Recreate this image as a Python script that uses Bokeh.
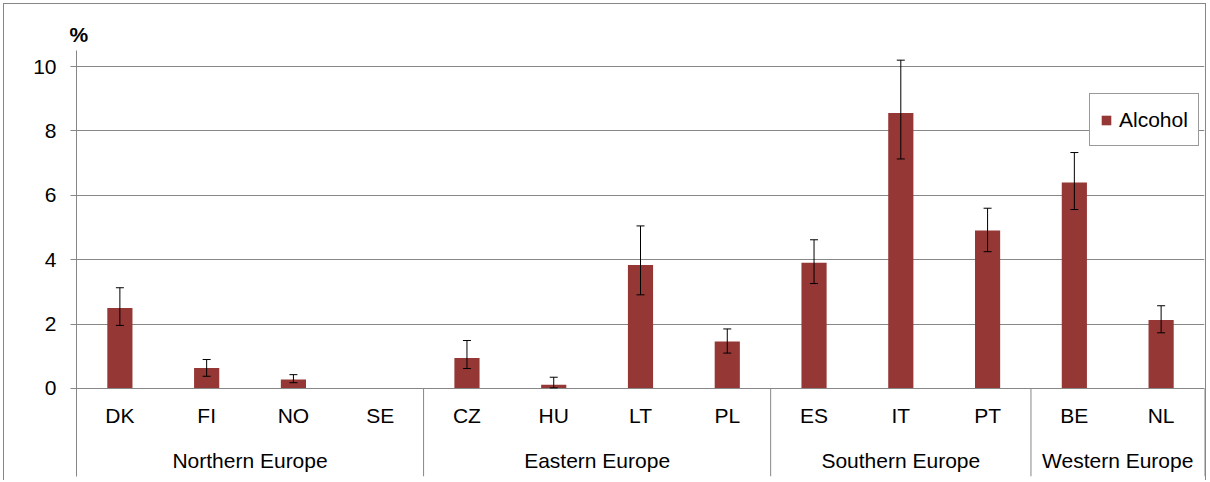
from bokeh.plotting import figure
from bokeh.models import (ColumnDataSource, Range1d, LinearAxis, FixedTicker, Grid,
                          Whisker, TeeHead, Legend)
from bokeh.embed import file_html
from bokeh.resources import INLINE

# ---- data ----
groups = ["Northern Europe", "Eastern Europe", "Southern Europe", "Western Europe"]
group_sizes = [4, 4, 3, 2]
countries = ["DK", "FI", "NO", "SE", "CZ", "HU", "LT", "PL", "ES", "IT", "PT", "BE", "NL"]
alcohol = [2.50, 0.64, 0.28, 0.0, 0.95, 0.12, 3.84, 1.46, 3.91, 8.56, 4.91, 6.40, 2.13]
err_upper = [3.13, 0.90, 0.43, None, 1.49, 0.35, 5.05, 1.85, 4.62, 10.20, 5.60, 7.33, 2.57]
err_lower = [1.96, 0.38, 0.18, None, 0.62, 0.02, 2.91, 1.10, 3.26, 7.13, 4.25, 5.56, 1.73]
y_ticks = [0, 2, 4, 6, 8, 10]
series_name = "Alcohol"
unit_label = "%"

FONT = "Liberation Sans"
FS = "21px"
GRAY = "#878787"
BAR = "#953735"

xpos = [i + 0.5 for i in range(len(countries))]
bounds = [0]
for s in group_sizes:
    bounds.append(bounds[-1] + s)
group_centers = [(bounds[i] + bounds[i + 1]) / 2 for i in range(len(groups))]

p = figure(width=1203, height=477, output_backend="svg", toolbar_location=None,
           x_axis_type=None, y_axis_type=None,
           x_range=Range1d(0, len(countries)), y_range=Range1d(-2.734, 10.5),
           min_border_left=72, min_border_top=46, min_border_right=3, min_border_bottom=5)
p.outline_line_color = None
p.background_fill_color = "white"
p.border_fill_color = "white"
p.styles = {"margin-left": "3px", "margin-top": "3px",
            "border-left": "1px solid #868686", "border-top": "1px solid #868686",
            "border-right": "1px solid #868686"}

# unit label above the y axis
p.title.text = unit_label
p.title.align = "left"
p.title.offset = -7
p.title.standoff = 9
p.title.text_font = FONT
p.title.text_font_size = FS
p.title.text_font_style = "bold"
p.title.text_color = "black"

# y axis
yt = FixedTicker(ticks=y_ticks, minor_ticks=[])
yax = LinearAxis(ticker=yt)
yax.axis_line_color = GRAY
yax.major_tick_line_color = GRAY
yax.major_tick_out = 6
yax.major_tick_in = 0
yax.minor_tick_line_color = None
yax.major_label_text_font = FONT
yax.major_label_text_font_size = FS
yax.major_label_text_color = "black"
yax.major_label_standoff = 14
p.add_layout(yax, "left")

p.add_layout(Grid(dimension=1, ticker=yt, grid_line_color=GRAY, grid_line_width=1))

# country axis (at y=0)
xax = LinearAxis(ticker=FixedTicker(ticks=xpos, minor_ticks=[]), fixed_location=0,
                 major_label_overrides={x: c for x, c in zip(xpos, countries)})
xax.axis_line_color = GRAY
xax.major_tick_line_color = None
xax.major_tick_out = 0
xax.major_tick_in = 0
xax.minor_tick_line_color = None
xax.major_label_text_font = FONT
xax.major_label_text_font_size = FS
xax.major_label_text_color = "black"
xax.major_label_standoff = 16
p.add_layout(xax, "below")

# group axis
gax = LinearAxis(ticker=FixedTicker(ticks=group_centers, minor_ticks=[]), fixed_location=0,
                 major_label_overrides={x: g for x, g in zip(group_centers, groups)})
gax.axis_line_color = None
gax.major_tick_line_color = None
gax.major_tick_out = 0
gax.major_tick_in = 0
gax.minor_tick_line_color = None
gax.major_label_text_font = FONT
gax.major_label_text_font_size = FS
gax.major_label_text_color = "black"
gax.major_label_standoff = 61
p.add_layout(gax, "below")

# group separators
p.segment(x0=bounds[1:], y0=[0] * (len(bounds) - 1), x1=bounds[1:],
          y1=[p.y_range.start] * (len(bounds) - 1), line_color=GRAY, line_width=1)

# bars
src = ColumnDataSource(dict(x=xpos, top=alcohol))
bars = p.vbar(x="x", top="top", bottom=0, width=0.29, source=src,
              fill_color=BAR, line_color=None)

# error bars
ex, eu, el = [], [], []
for x, u, l in zip(xpos, err_upper, err_lower):
    if u is not None:
        ex.append(x); eu.append(u); el.append(l)
esrc = ColumnDataSource(dict(x=ex, upper=eu, lower=el))
w = Whisker(base="x", upper="upper", lower="lower", source=esrc, line_color="black",
            line_width=1, level="overlay",
            upper_head=TeeHead(size=8, line_color="black", line_width=1),
            lower_head=TeeHead(size=8, line_color="black", line_width=1))
p.add_layout(w)

# legend
legend = Legend(items=[(series_name, [bars])], location=(1013, 330))
legend.label_text_font = FONT
legend.label_text_font_size = FS
legend.label_text_color = "black"
legend.glyph_width = 12
legend.glyph_height = 12
legend.label_standoff = 7
legend.label_height = 31
legend.padding = 10
legend.margin = 0
legend.spacing = 0
legend.border_line_color = "#333333"
legend.border_line_width = 1
legend.background_fill_alpha = 1
p.add_layout(legend, "center")

open("out.html", "w").write(file_html(p, INLINE))
